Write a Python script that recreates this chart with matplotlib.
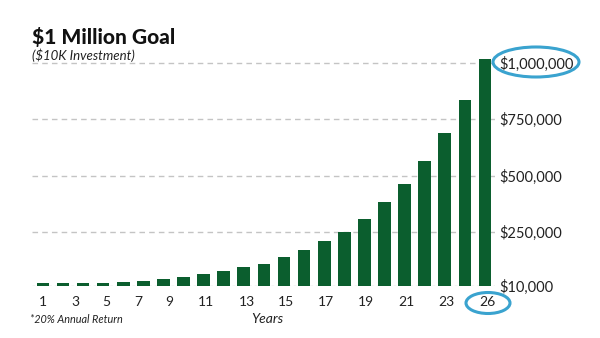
import matplotlib.pyplot as plt
from matplotlib.patches import Ellipse

# balance at the end of each bar (23 bars), $10K growing at 20% a year
balances = [24600, 24600, 24600, 24600, 27700, 32200, 39700, 49900, 63200, 77800,
            92900, 108900, 138600, 171000, 209500, 249400, 308400, 383800, 462300,
            565600, 687000, 834700, 1016500]
year_labels = ["1", "3", "5", "7", "9", "11", "13", "15", "17", "19", "21", "23", "26"]
year_label_pos = [0, 1.6, 3.15, 4.75, 6.3, 8.1, 10.15, 12.1, 14.1, 16.1, 18.1, 20.1, 22.1]
y_ticks = [10000, 250000, 500000, 750000, 1000000]
y_tick_labels = ["$10,000", "$250,000", "$500,000", "$750,000", "$1,000,000"]

plt.rcParams["font.family"] = ["Lato", "DejaVu Sans"]
green = "#0b5e2e"
blue = "#3aa3cf"
text_col = "#222222"

fig = plt.figure(figsize=(6, 3.38), dpi=100)
ax = fig.add_axes([0.053, 0.1538, 0.772, 0.7006])

x = list(range(len(balances)))
ax.bar(x, balances, width=0.63, color=green, zorder=3)

ax.set_xlim(-0.55, 22.5)
ax.set_ylim(10000, 1060000)

# dashed value grid
for v in y_ticks[1:]:
    ax.axhline(v, color="#c4c4c4", lw=1, ls=(0, (4, 3)), zorder=1)
ax.axhline(10000, color="#d0d0d0", lw=1, ls=(0, (2, 2)), zorder=1)

for s in ax.spines.values():
    s.set_visible(False)

ax.yaxis.tick_right()
ax.set_yticks(y_ticks)
ax.set_yticklabels(y_tick_labels, fontsize=10.5, color=text_col)
ax.tick_params(axis="y", length=0, pad=3)

ax.set_xticks(year_label_pos)
ax.set_xticklabels(year_labels, fontsize=10, color=text_col)
ax.tick_params(axis="x", length=0, pad=7)

fig.text(0.053, 0.862, "$1 Million Goal", fontsize=15, fontweight=900,
         color="#111111", va="bottom")
fig.text(0.053, 0.818, "($10K Investment)", fontsize=9.5, style="italic",
         color=text_col, va="bottom")
fig.text(0.05, 0.055, "*20% Annual Return", fontsize=7.8, style="italic",
         color=text_col, va="center")
fig.text(0.445, 0.057, "Years", fontsize=10, style="italic",
         color=text_col, va="center", ha="center")

# highlight rings around the goal and the final year
fig.add_artist(Ellipse((536 / 600, 1 - 62 / 338), 86 / 600, 30 / 338,
                       transform=fig.transFigure, fill=False, ec=blue, lw=2.2))
fig.add_artist(Ellipse((488 / 600, 1 - 303 / 338), 44 / 600, 21 / 338,
                       transform=fig.transFigure, fill=False, ec=blue, lw=2.2))

fig.savefig("out.png", dpi=100)
